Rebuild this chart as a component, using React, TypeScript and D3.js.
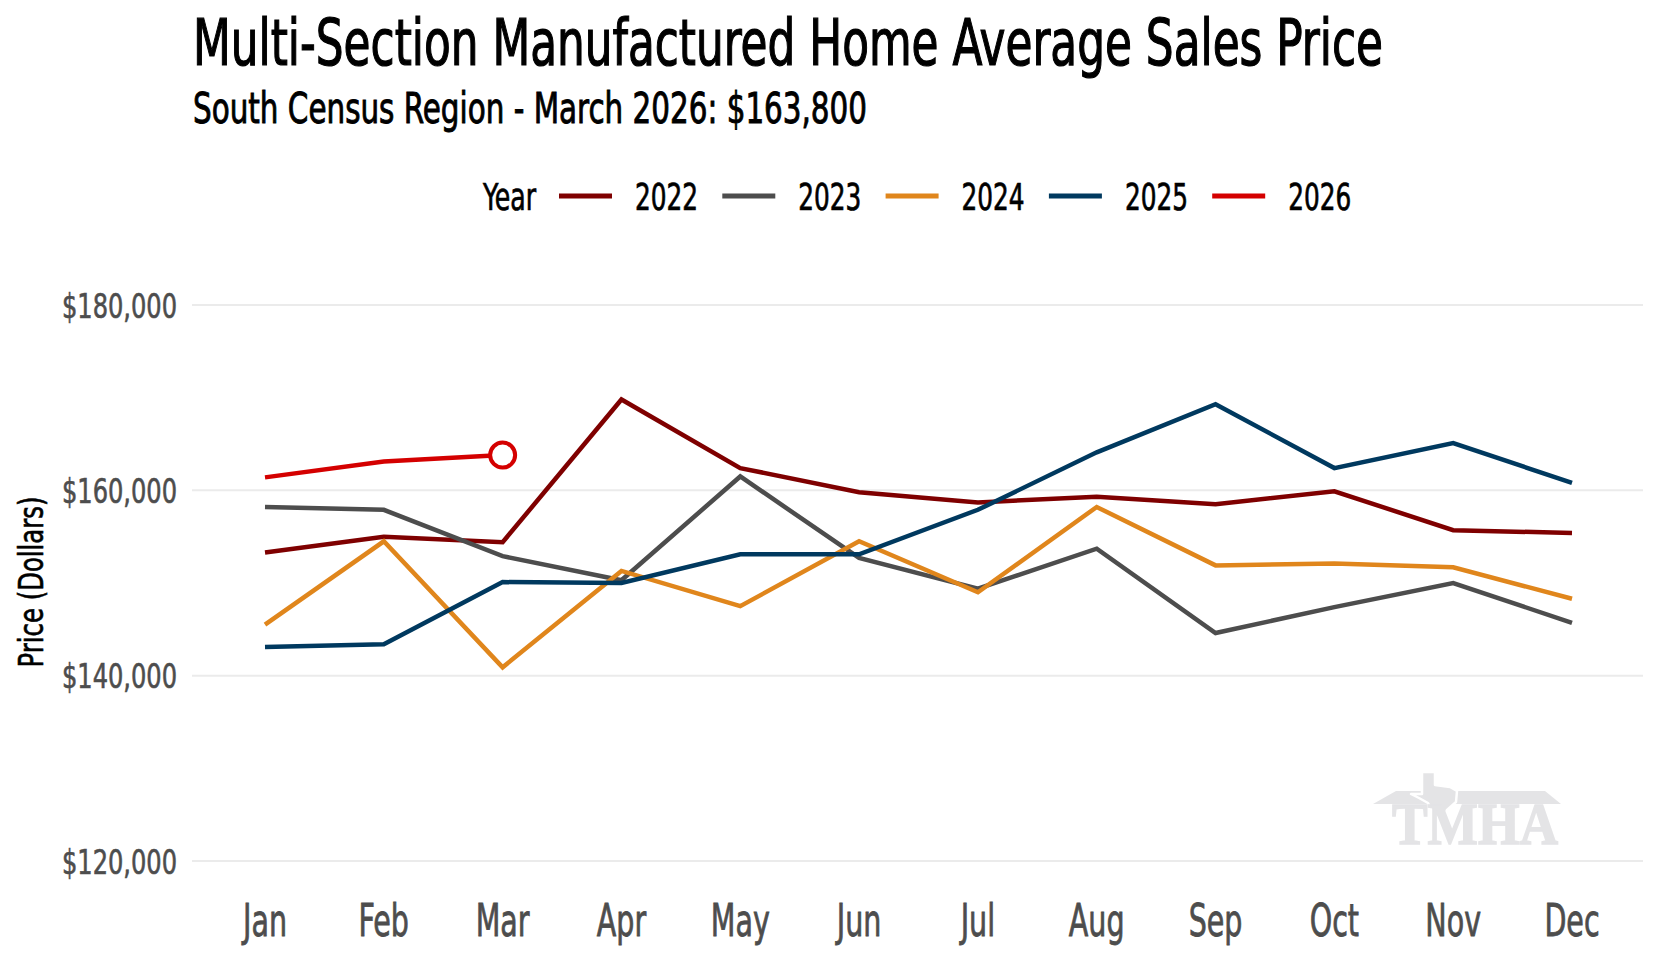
import { useRef, useEffect } from 'react';
import * as d3 from 'd3';

const MONTHS = ['Jan', 'Feb', 'Mar', 'Apr', 'May', 'Jun', 'Jul', 'Aug', 'Sep', 'Oct', 'Nov', 'Dec'];
const YEARS = ['2022', '2023', '2024', '2025', '2026'];

const PRICES_2022 = [153300, 155000, 154400, 169800, 162400, 159800, 158700, 159300, 158500, 159900, 155700, 155400];
const PRICES_2023 = [158200, 157900, 152900, 150300, 161500, 152700, 149400, 153700, 144600, 147400, 150000, 145700];
const PRICES_2024 = [145500, 154500, 140900, 151300, 147500, 154500, 149000, 158200, 151900, 152100, 151700, 148300];
const PRICES_2025 = [143100, 143400, 150100, 150000, 153100, 153100, 157900, 164100, 169300, 162400, 165100, 160800];
const PRICES_2026 = [161400, 163100, 163800];

const Y_TICKS = [120000, 140000, 160000, 180000];

const YEAR_COLORS: Record<string, string> = {
  '2022': '#7f0000',
  '2023': '#4d4d4d',
  '2024': '#e0861c',
  '2025': '#00395f',
  '2026': '#d40000',
};

const FONT = '"Liberation Sans Narrow", "DejaVu Sans Condensed", "Liberation Sans", sans-serif';

const W = 1660;
const H = 960;

// squeeze text to a target width (the original uses a condensed face we don't have)
function fitTo(sel: d3.Selection<SVGTextElement, any, any, any>, width: number) {
  sel.attr('textLength', width).attr('lengthAdjust', 'spacingAndGlyphs');
}

function fitByRatio(sel: d3.Selection<SVGTextElement, any, any, any>, k: number) {
  sel.each(function () {
    const w = this.getComputedTextLength();
    d3.select(this).attr('textLength', w * k).attr('lengthAdjust', 'spacingAndGlyphs');
  });
}

// a thin stroke in the fill colour makes the face look a bit heavier
function heavy(sel: d3.Selection<SVGTextElement, any, any, any>, color: string, w: number) {
  sel.attr('fill', color).attr('stroke', color).attr('stroke-width', w).attr('paint-order', 'stroke');
}

export default function App() {
  const svgRef = useRef<SVGSVGElement>(null);

  useEffect(() => {
    document.body.style.margin = '0';
    if (!svgRef.current) return;
    const svg = d3.select(svgRef.current);
    svg.selectAll('*').remove();

    const series = [
      { year: '2022', values: PRICES_2022 },
      { year: '2023', values: PRICES_2023 },
      { year: '2024', values: PRICES_2024 },
      { year: '2025', values: PRICES_2025 },
      { year: '2026', values: PRICES_2026 },
    ];

    const x = d3.scalePoint<string>().domain(MONTHS).range([265, 1572]);
    const y = d3.scaleLinear().domain([120000, 180000]).range([861, 305]);
    const gridLeft = 192;
    const gridRight = 1643;

    // Title + subtitle: smaller face stretched upward so it keeps the tall look
    svg.append('text')
      .attr('transform', 'translate(193,65) scale(1,1.35)')
      .attr('font-family', FONT).attr('font-size', 47)
      .text('Multi-Section Manufactured Home Average Sales Price')
      .call(fitTo, 1190)
      .call(heavy, '#000', 0.9);

    svg.append('text')
      .attr('transform', 'translate(193,123) scale(1,1.3)')
      .attr('font-family', FONT).attr('font-size', 33)
      .text('South Census Region - March 2026: $163,800')
      .call(fitTo, 674)
      .call(heavy, '#000', 0.7);

    // Legend
    const legend = svg.append('g');
    legend.append('text')
      .attr('x', 483).attr('y', 210)
      .attr('font-family', FONT).attr('font-size', 37)
      .text('Year')
      .call(fitTo, 53)
      .call(heavy, '#000', 0.7);

    YEARS.forEach((yr, i) => {
      const x0 = 559 + i * 163.3;
      legend.append('line')
        .attr('x1', x0).attr('x2', x0 + 53)
        .attr('y1', 196).attr('y2', 196)
        .attr('stroke', YEAR_COLORS[yr]).attr('stroke-width', 5);
      legend.append('text')
        .attr('x', x0 + 76).attr('y', 210)
        .attr('font-family', FONT).attr('font-size', 37)
        .text(yr)
        .call(fitTo, 63)
        .call(heavy, '#000', 0.7);
    });

    // Gridlines
    svg.append('g')
      .selectAll('line')
      .data(Y_TICKS)
      .join('line')
      .attr('x1', gridLeft).attr('x2', gridRight)
      .attr('y1', (d) => y(d)).attr('y2', (d) => y(d))
      .attr('stroke', '#ebebeb').attr('stroke-width', 2);

    // Watermark logo
    const logo = svg.append('g').attr('fill', '#e4e4e6');
    logo.append('path')
      .attr('d', 'M1373,804 L1396,791 L1545,791 L1561,804 Z');
    logo.append('path')
      .attr('stroke', '#ffffff').attr('stroke-width', 2.5).attr('stroke-linejoin', 'round')
      .attr('d', 'M1422,772 L1435,772 L1435,785 L1450,787 L1457,791 L1456,802 L1447,810 L1442,822 L1434,814 L1428,803 L1419,798 L1411,794 L1422,794 Z');
    logo.append('text')
      .attr('x', 1392).attr('y', 844)
      .attr('font-family', '"Liberation Serif", "DejaVu Serif", serif')
      .attr('font-weight', 'bold').attr('font-size', 60)
      .attr('stroke', '#e4e4e6').attr('stroke-width', 1.5)
      .text('TMHA')
      .call(fitTo, 166);

    // Y axis labels
    const yLabels = svg.append('g')
      .selectAll('text')
      .data(Y_TICKS)
      .join('text')
      .attr('x', 177)
      .attr('y', (d) => y(d) + 12.5)
      .attr('text-anchor', 'end')
      .attr('font-family', FONT).attr('font-size', 34)
      .text((d) => '$' + d3.format(',')(d))
      .call(heavy, '#4d4d4d', 0.6);
    const yK = 115 / (yLabels.node() as SVGTextElement).getComputedTextLength();
    fitByRatio(yLabels, yK);

    // Y axis title
    svg.append('text')
      .attr('transform', 'translate(43,582) rotate(-90)')
      .attr('text-anchor', 'middle')
      .attr('font-family', FONT).attr('font-size', 33)
      .text('Price (Dollars)')
      .call(fitTo, 171)
      .call(heavy, '#000', 0.6);

    // X axis labels
    const xLabels = svg.append('g')
      .selectAll('text')
      .data(MONTHS)
      .join('text')
      .attr('x', (d) => x(d)!)
      .attr('y', 936)
      .attr('text-anchor', 'middle')
      .attr('font-family', FONT).attr('font-size', 45)
      .text((d) => d)
      .call(heavy, '#4d4d4d', 0.8);
    const xK = 44 / (xLabels.node() as SVGTextElement).getComputedTextLength();
    fitByRatio(xLabels, xK);

    // Lines
    const line = d3.line<number>()
      .x((_, i) => x(MONTHS[i])!)
      .y((d) => y(d));

    svg.append('g')
      .selectAll('path')
      .data(series)
      .join('path')
      .attr('d', (s) => line(s.values))
      .attr('fill', 'none')
      .attr('stroke', (s) => YEAR_COLORS[s.year])
      .attr('stroke-width', 4.5)
      .attr('stroke-linejoin', 'miter')
      .attr('stroke-linecap', 'butt');

    // Latest point marker
    const lastIdx = PRICES_2026.length - 1;
    svg.append('circle')
      .attr('cx', x(MONTHS[lastIdx])!)
      .attr('cy', y(PRICES_2026[lastIdx]))
      .attr('r', 12.5)
      .attr('fill', '#ffffff')
      .attr('stroke', YEAR_COLORS['2026'])
      .attr('stroke-width', 4);
  }, []);

  return (
    <div style={{ position: 'absolute', left: 0, top: 0 }}>
      <svg ref={svgRef} width={W} height={H} viewBox={'0 0 ' + W + ' ' + H} style={{ display: 'block', background: '#fff' }} />
    </div>
  );
}
